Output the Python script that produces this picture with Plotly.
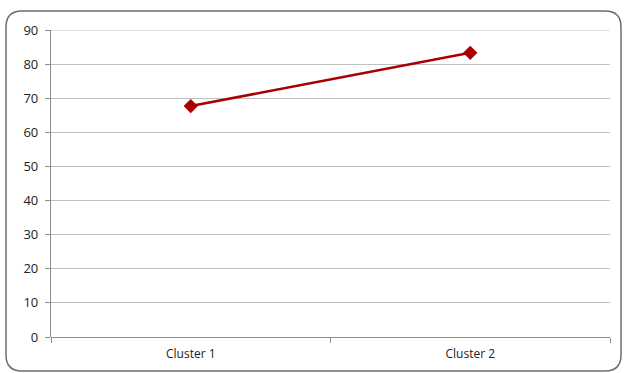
import plotly.graph_objects as go

categories = ["Cluster 1", "Cluster 2"]
values = [67.7, 83.3]
y_ticks = list(range(0, 100, 10))

W, H = 624, 373
L, R, T, B = 51, 14, 30, 36
pw, ph = W - L - R, H - T - B


def px(x):
    return (x - L) / pw


def py(y):
    return (H - B - y) / ph


# rounded frame around the chart, defined in pixels and mapped to paper space
x0, x1, y0, y1, r = 6, 621, 11, 371, 16
frame = (
    f"M {px(x0 + r)},{py(y0)} L {px(x1 - r)},{py(y0)} "
    f"Q {px(x1)},{py(y0)} {px(x1)},{py(y0 + r)} "
    f"L {px(x1)},{py(y1 - r)} Q {px(x1)},{py(y1)} {px(x1 - r)},{py(y1)} "
    f"L {px(x0 + r)},{py(y1)} Q {px(x0)},{py(y1)} {px(x0)},{py(y1 - r)} "
    f"L {px(x0)},{py(y0 + r)} Q {px(x0)},{py(y0)} {px(x0 + r)},{py(y0)} Z"
)

fig = go.Figure(
    go.Scatter(
        x=categories,
        y=values,
        mode="lines+markers",
        line=dict(color="#A80000", width=2.5),
        marker=dict(symbol="diamond", size=11, color="#A80000"),
        showlegend=False,
    )
)

fig.update_layout(
    width=W,
    height=H,
    margin=dict(l=L, r=R, t=T, b=B),
    paper_bgcolor="white",
    plot_bgcolor="white",
    font=dict(family="Open Sans, Liberation Sans, sans-serif", size=12, color="#222"),
    shapes=[
        dict(
            type="path",
            path=frame,
            xref="paper",
            yref="paper",
            line=dict(color="#6e6e6e", width=1.5),
            layer="below",
        ),
        # top gridline at the axis maximum
        dict(
            type="line",
            xref="paper",
            yref="y",
            x0=0,
            x1=1,
            y0=y_ticks[-1],
            y1=y_ticks[-1],
            line=dict(color="#c0c0c0", width=1.2),
            layer="below",
        ),
    ],
)

fig.update_xaxes(
    type="category",
    range=[-0.5, 1.5],
    tickson="boundaries",
    ticks="outside",
    ticklen=5,
    tickcolor="#8c8c8c",
    showline=False,
    showgrid=False,
    tickfont=dict(size=12),
    ticklabelstandoff=8,
)

fig.update_yaxes(
    range=[0, 90],
    tickvals=y_ticks,
    ticks="outside",
    ticklen=5,
    tickcolor="#8c8c8c",
    showline=True,
    linecolor="#8c8c8c",
    linewidth=1.2,
    showgrid=True,
    gridcolor="#c0c0c0",
    gridwidth=1.2,
    zeroline=True,
    zerolinecolor="#8c8c8c",
    zerolinewidth=1.2,
    tickfont=dict(size=13),
    ticklabelstandoff=4,
)

fig.write_html("out.html")
